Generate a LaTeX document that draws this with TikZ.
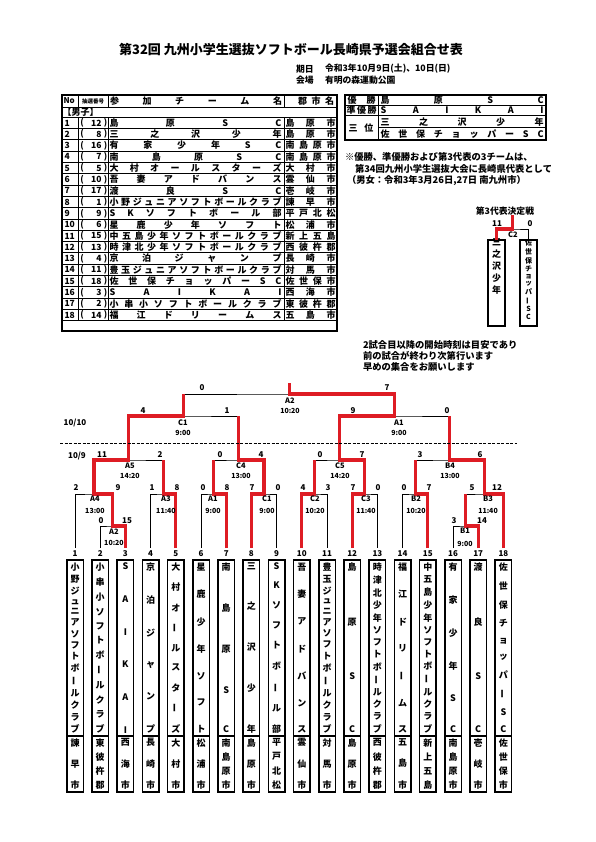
\documentclass[tikz,border=0pt]{standalone}
\usepackage{fontspec}
\setmainfont{Noto Sans CJK JP}
\usepackage{graphicx}
\definecolor{winred}{RGB}{222,28,36}
\makeatletter
\def\hsp@first#1{#1\hsp@loop}
\def\hsp@loop#1{\ifx\relax#1\else\hfill#1\expandafter\hsp@loop\fi}
\newcommand\hspread[2]{\makebox[#1][s]{\expandafter\hsp@first#2\relax}}
\def\vs@char#1{\ifx ー#1\rotatebox[origin=c]{90}{ー}\else#1\fi}
\def\vs@box#1{\hbox to 1.1em{\hss\vs@char{#1}\hss}}
\def\vsp@first#1{\vs@box{#1}\vsp@loop}
\def\vsp@loop#1{\ifx\relax#1\else\vfill\vs@box{#1}\expandafter\vsp@loop\fi}
\newcommand\vspread[2]{\vbox to #1{\offinterlineskip\expandafter\vsp@first#2\relax}}
\makeatother
\newcommand\fsz[1]{\fontsize{#1}{#1}\selectfont\bfseries}
\newcommand\trow[4]{%
 \node[font=\fsz{8.5}, anchor=west] (no#1) at (64.5,{122.95+11.3*(#1-1)}) {#1};
 \node[font=\fsz{8.5}] (lp#1) at (82,{122.95+11.3*(#1-1)}) {(};
 \node[font=\fsz{8.5}, anchor=east] (lo#1) at (101.5,{122.95+11.3*(#1-1)}) {#2};
 \node[font=\fsz{8.5}] (rp#1) at (105.5,{122.95+11.3*(#1-1)}) {)};
 \node[tx] (tn#1) at (109.5,{122.95+11.3*(#1-1)}) {\hspread{172pt}{#3}};
 \node[tx] (tc#1) at (285.5,{122.95+11.3*(#1-1)}) {\hspread{50pt}{#4}};
}
\tikzset{
  ln/.style={line width=0.6pt, line join=miter},
  win/.style={draw=winred, line width=3.2pt, line join=miter},
  tline/.style={line width=0.9pt},
  tframe/.style={line width=1.4pt},
  tbox/.style={draw, line width=1.5pt, minimum width=16.5pt, inner sep=0pt},
  sc/.style={font=\fsz{8}},
  mlab/.style={font=\fsz{7.5}},
  mtime/.style={font=\fsz{7}},
  vname/.style={font=\fsz{9}},
  tx/.style={font=\fsz{9}, anchor=west},
}
\begin{document}
\begin{tikzpicture}[x=1pt,y=-1pt, every node/.style={inner sep=0pt, outer sep=0pt}]
\useasboundingbox (0,0) rectangle (595,842);
\fill[white] (0,0) rectangle (595,842);

% ---------- title ----------
\node[font=\fsz{13}] (title) at (291,50) {第32回 九州小学生選抜ソフトボール長崎県予選会組合せ表};
\node[font=\fsz{8.8}, anchor=west] (d1) at (296,69) {期日};
\node[font=\fsz{8.8}, anchor=west] (d2) at (325,69) {令和3年10月9日(土)、10日(日)};
\node[font=\fsz{8.8}, anchor=west] (d3) at (296,80) {会場};
\node[font=\fsz{8.8}, anchor=west] (d4) at (325,80) {有明の森運動公園};

% ---------- entry table ----------
\draw[tframe] (62,95) rectangle (337,331);
\draw[tline] (62,107) -- (337,107);
\draw[tline] (62,117.3) -- (337,117.3);
\foreach \k in {1,...,18} \draw[tline] (62,{117.3+11.3*\k}) -- (337,{117.3+11.3*\k});
\foreach \xx in {78,108.5,284} {\draw[tline] (\xx,95) -- (\xx,107); \draw[tline] (\xx,117.3) -- (\xx,320.7);}
\node[font=\fsz{8}, anchor=west] (hno) at (63.5,101) {No};
\node[font=\fsz{5.5}] (hlot) at (93.2,101) {抽選番号};
\node[tx] (hname) at (110,101) {\hspread{172pt}{参加チーム名}};
\node[tx] (hcity) at (298,101) {\hspread{36pt}{郡市名}};
\node[tx] (hboys) at (62.5,112.2) {【男子】};
\trow{1}{12}{島原SC}{島原市}
\trow{2}{8}{三之沢少年}{島原市}
\trow{3}{16}{有家少年SC}{南島原市}
\trow{4}{7}{南島原SC}{南島原市}
\trow{5}{5}{大村オールスターズ}{大村市}
\trow{6}{10}{吾妻アドバンス}{雲仙市}
\trow{7}{17}{渡良SC}{壱岐市}
\trow{8}{1}{小野ジュニアソフトボールクラブ}{諫早市}
\trow{9}{9}{SKソフトボール部}{平戸北松}
\trow{10}{6}{星鹿少年ソフト}{松浦市}
\trow{11}{15}{中五島少年ソフトボールクラブ}{新上五島}
\trow{12}{13}{時津北少年ソフトボールクラブ}{西彼杵郡}
\trow{13}{4}{京泊ジャンプ}{長崎市}
\trow{14}{11}{豊玉ジュニアソフトボールクラブ}{対馬市}
\trow{15}{18}{佐世保チョッパーSC}{佐世保市}
\trow{16}{3}{SAIKAI}{西海市}
\trow{17}{2}{小串小ソフトボールクラブ}{東彼杵郡}
\trow{18}{14}{福江ドリームス}{五島市}

% ---------- result table ----------
\draw[tframe] (345,95) rectangle (546,140);
\draw[tline] (345,105.3) -- (546,105.3);
\draw[tline] (345,115.6) -- (546,115.6);
\draw[tline] (378,127.8) -- (546,127.8);
\draw[tline] (378,95) -- (378,140);
\node[tx] (w1l) at (347.5,100.2) {\hspread{28pt}{優勝}};
\node[tx] (w2l) at (346.5,110.5) {\hspread{30pt}{準優勝}};
\node[tx] (w3l) at (348.5,127.8) {\hspread{25pt}{三位}};
\node[tx] (w1) at (380.5,100.2) {\hspread{163pt}{島原SC}};
\node[tx] (w2) at (380.5,110.5) {\hspread{163pt}{SAIKAI}};
\node[tx] (w3) at (380.5,121.7) {\hspread{163pt}{三之沢少年}};
\node[tx] (w4) at (380.5,133.9) {\hspread{163pt}{佐世保チョッパーSC}};

% ---------- notes ----------
\node[font=\fsz{9.3}, anchor=west] (n1) at (345,157) {※優勝、準優勝および第3代表の3チームは、};
\node[font=\fsz{9.3}, anchor=west] (n2) at (355,169) {第34回九州小学生選抜大会に長崎県代表として};
\node[font=\fsz{9.3}, anchor=west] (n3) at (347,181) {（男女：令和3年3月26日,27日 南九州市）};
\node[font=\fsz{9.3}, anchor=west] (m1) at (363,345) {2試合目以降の開始時刻は目安であり};
\node[font=\fsz{9.3}, anchor=west] (m2) at (363,356) {前の試合が終わり次第行います};
\node[font=\fsz{9.3}, anchor=west] (m3) at (363,367) {早めの集合をお願いします};

% ---------- third place match ----------
\node[font=\fsz{8.8}] (qtitle) at (505,211) {第3代表決定戦};
\node[tbox, minimum width=17pt, minimum height=86pt, anchor=north] (q1) at (496.5,240) {};
\node[tbox, minimum width=17pt, minimum height=86pt, anchor=north] (q2) at (528.5,240) {};
\node[font=\fsz{9}, anchor=north] (q1t) at (496.5,239) {\vspread{54pt}{三之沢少年}};
\node[font=\fsz{7}, anchor=north] (q2t) at (528.5,239.5) {\vspread{80pt}{佐世保チョッパーSC}};
\coordinate (qm) at (512.5,229);
\coordinate (qtop) at (512.5,215.5);
\draw[ln] (q1.north) |- (qm) -| (q2.north);
\draw[win] (q1.north) |- (qm) -- (qtop);
\node[sc] (qs1) at (497,223.5) {11};
\node[sc] (qs2) at (530,223.5) {0};
\node[mlab] (qlab) at (513,234.5) {C2};

% ---------- bracket coordinates ----------
\foreach \i in {1,...,18} \coordinate (t\i) at ({75+25.2*(\i-1)},548);
\coordinate (mA2) at (112.8,526);
\coordinate (mB1) at (465.6,526);
\coordinate (mA4) at (93.9,494);
\coordinate (mA3) at (163.2,494);
\coordinate (mA1) at (213.6,494);
\coordinate (mC1) at (264,494);
\coordinate (mC2) at (314.4,494);
\coordinate (mC3) at (364.8,494);
\coordinate (mB2) at (415.2,494);
\coordinate (mB3) at (484.5,494);
\coordinate (mA5) at (128.55,460);
\coordinate (mC4) at (238.8,460);
\coordinate (mC5) at (339.6,460);
\coordinate (mB4) at (449.85,460);
\coordinate (sC1) at (183.7,416);
\coordinate (sA1) at (394.7,416);
\coordinate (fA2) at (289.2,394);
\coordinate (top) at (289.2,383);

% black lines
\draw[ln] (t2) |- (mA2) -| (t3);
\draw[ln] (t16) |- (mB1) -| (t17);
\draw[ln] (t1) |- (mA4) -| (mA2);
\draw[ln] (t4) |- (mA3) -| (t5);
\draw[ln] (t6) |- (mA1) -| (t7);
\draw[ln] (t8) |- (mC1) -| (t9);
\draw[ln] (t10) |- (mC2) -| (t11);
\draw[ln] (t12) |- (mC3) -| (t13);
\draw[ln] (t14) |- (mB2) -| (t15);
\draw[ln] (mB1) |- (mB3) -| (t18);
\draw[ln] (mA4) |- (mA5) -| (mA3);
\draw[ln] (mA1) |- (mC4) -| (mC1);
\draw[ln] (mC2) |- (mC5) -| (mC3);
\draw[ln] (mB2) |- (mB4) -| (mB3);
\draw[ln] (mA5) |- (sC1) -| (mC4);
\draw[ln] (mC5) |- (sA1) -| (mB4);
\draw[ln] (sC1) |- (fA2) -| (sA1);

% winners
\draw[win] (t3) |- (mA2) |- (mA4) |- (mA5) |- (sC1) -- (sC1 |- fA2);
\draw[win] (t5) |- (mA3) -- (mA3 |- mA5);
\draw[win] (t7) |- (mA1) -- (mA1 |- mC4);
\draw[win] (t8) |- (mC1) |- (mC4) -- (mC4 |- sC1);
\draw[win] (t10) |- (mC2) -- (mC2 |- mC5);
\draw[win] (t12) |- (mC3) |- (mC5) |- (sA1) |- (fA2) -- (top);
\draw[win] (t15) |- (mB2) -- (mB2 |- mB4);
\draw[win] (t17) |- (mB1) -- (mB1 |- mB3);
\draw[win] (t18) |- (mB3) |- (mB4) -- (mB4 |- sA1);

% day separator
\node[font=\fsz{8}] (day1) at (75,423) {10/10};
\node[font=\fsz{8}] (day2) at (77,456) {10/9};
\coordinate (dl) at (60,443);
\coordinate (dr) at (517,443);
\draw[line width=0.9pt, dash pattern=on 3.2pt off 1.3pt] (dl) -- (dr);

% scores
\foreach \nm/\x/\y/\s in {f0/202/388/0, f7/387/388/7,
  sc1a/143/411/4, sc1b/227/411/1, sa1a/353/411/9, sa1b/447/411/0,
  a5a/102/455/11, a5b/160/455/2, c4a/220/455/0, c4b/261/455/4,
  c5a/320/455/0, c5b/362/455/7, b4a/420/455/3, b4b/480/455/6,
  a4a/76/488/2, a4b/118/488/9, a3a/152/488/1, a3b/177/488/8,
  a1a/203/488/0, a1b/227/488/8, c1a/252/488/7, c1b/278/488/0,
  c2a/303/488/4, c2b/328/488/3, c3a/353/488/7, c3b/378/488/0,
  b2a/404/488/0, b2b/429/488/7, b3a/472/488/5, b3b/497/488/12,
  a2a/101/521/0, a2b/127/521/15, b1a/454/521/3, b1b/482/521/14}
  \node[sc] (s-\nm) at (\x,\y) {\s};

% match labels
\foreach \nm/\x/\ya/\yb/\lab/\tm in {F/290/401/411/A2/10:20,
  S1/183/423/433/C1/9:00, S2/399/423/433/A1/9:00,
  Q1/130/466/476/A5/14:20, Q2/241/466/476/C4/13:00,
  Q3/340/466/476/C5/14:20, Q4/450/466/476/B4/13:00,
  R1/95/499/511/A4/13:00, R2/166/499/511/A3/11:40,
  R3/213/499/511/A1/9:00, R4/267/499/511/C1/9:00,
  R5/315/499/511/C2/10:20, R6/366/499/511/C3/11:40,
  R7/416/499/511/B2/10:20, R8/488/499/511/B3/11:40,
  P1/114/532/543/A2/10:20, P2/465/531/544/B1/9:00}
  {\node[mlab] (l-\nm) at (\x,\ya) {\lab};
   \node[mtime] (tm-\nm) at (\x,\yb) {\tm};}

% team boxes
\foreach \i/\nm/\ct in {1/小野ジュニアソフトボールクラブ/諫早市,
  2/小串小ソフトボールクラブ/東彼杵郡, 3/SAIKAI/西海市, 4/京泊ジャンプ/長崎市,
  5/大村オールスターズ/大村市, 6/星鹿少年ソフト/松浦市, 7/南島原SC/南島原市,
  8/三之沢少年/島原市, 9/SKソフトボール部/平戸北松, 10/吾妻アドバンス/雲仙市,
  11/豊玉ジュニアソフトボールクラブ/対馬市, 12/島原SC/島原市,
  13/時津北少年ソフトボールクラブ/西彼杵郡, 14/福江ドリームス/五島市,
  15/中五島少年ソフトボールクラブ/新上五島, 16/有家少年SC/南島原市,
  17/渡良SC/壱岐市, 18/佐世保チョッパーSC/佐世保市}
{
  \node[font=\fsz{8}] (no-\i) at ({75+25.2*(\i-1)},553.5) {\i};
  \node[tbox, minimum height=176pt, vname] (nb\i) at ({75+25.2*(\i-1)},648) {\vspread{170pt}{\nm}};
  \node[tbox, minimum height=56pt, vname] (cb\i) at ({75+25.2*(\i-1)},764) {\vspread{50pt}{\ct}};
}
\end{tikzpicture}
\end{document}
